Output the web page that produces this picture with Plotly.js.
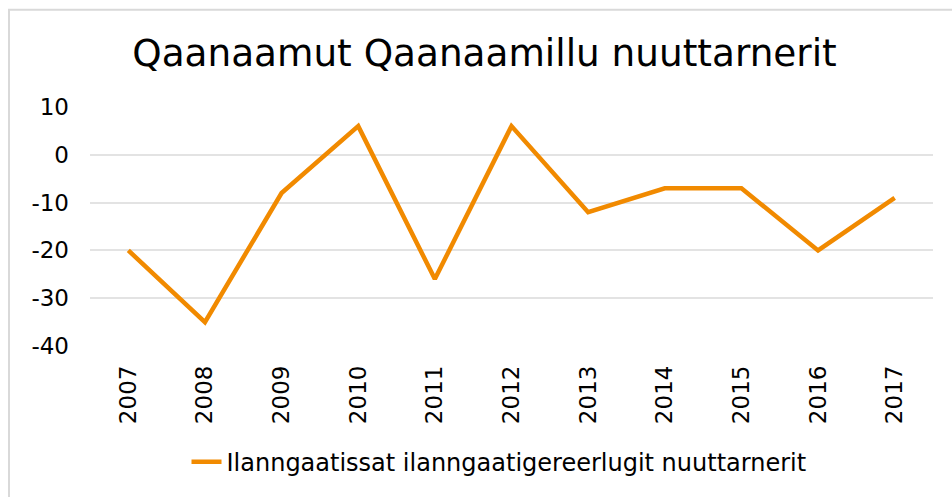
<!DOCTYPE html>
<html>
<head>
<meta charset="utf-8">
<script src="https://cdn.plot.ly/plotly-3.0.1.min.js"></script>
<style>html,body{margin:0;padding:0;background:#fff;}#chart{width:952px;height:497px;}</style>
</head>
<body>
<div id="chart"></div>
<script>
const years = ["2007","2008","2009","2010","2011","2012","2013","2014","2015","2016","2017"];
const values = [-20, -35, -8, 6, -26, 6, -12, -7, -7, -20, -9];
const seriesName = "Ilanngaatissat ilanngaatigereerlugit nuuttarnerit";
const chartTitle = "Qaanaamut Qaanaamillu nuuttarnerit";
const yTicks = [-40, -30, -20, -10, 0, 10];
const yTickLabels = ["-40", "-30", "-20", "-10", "0", "10"];

const font = "DejaVu Sans, Verdana, sans-serif";
const trace = {
  x: years, y: values, type: "scatter", mode: "lines", name: seriesName,
  line: {color: "#F18A00", width: 4.5}
};
const W = 952, H = 497;
const layout = {
  width: W, height: H,
  margin: {l: 90, r: 19, t: 107, b: 149},
  paper_bgcolor: "#fff", plot_bgcolor: "#fff",
  font: {family: font, color: "#000", size: 24},
  title: {text: chartTitle, font: {family: font, size: 37.4, color: "#000"}, x: 484.5/W, xanchor: "center", xref: "container", y: 1 - 53/H, yanchor: "middle"},
  xaxis: {type: "category", range: [-0.5, years.length - 0.5], tickangle: -90, showgrid: false, zeroline: false, showline: false, ticks: "", tickfont: {size: 23}, ticklabelstandoff: 14},
  yaxis: {range: [-40, 10], tickvals: yTicks, ticktext: yTickLabels, showgrid: true, gridcolor: "#E3E3E3", gridwidth: 2, zeroline: false, showline: false, ticks: "", tickfont: {size: 23}, ticklabelstandoff: 20},
  showlegend: true,
  legend: {orientation: "h", x: (499-90)/843, xanchor: "center", xref: "paper", y: -(465-348)/241, yanchor: "middle", font: {size: 24}},
  shapes: [{type: "rect", xref: "paper", yref: "paper", x0: (9-90)/843, x1: (960-90)/843, y0: (348-510)/241, y1: (348-9)/241, line: {color: "#D9D9D9", width: 2}}]
};
Plotly.newPlot("chart", [trace], layout, {displayModeBar: false, staticPlot: true});
</script>
</body>
</html>
